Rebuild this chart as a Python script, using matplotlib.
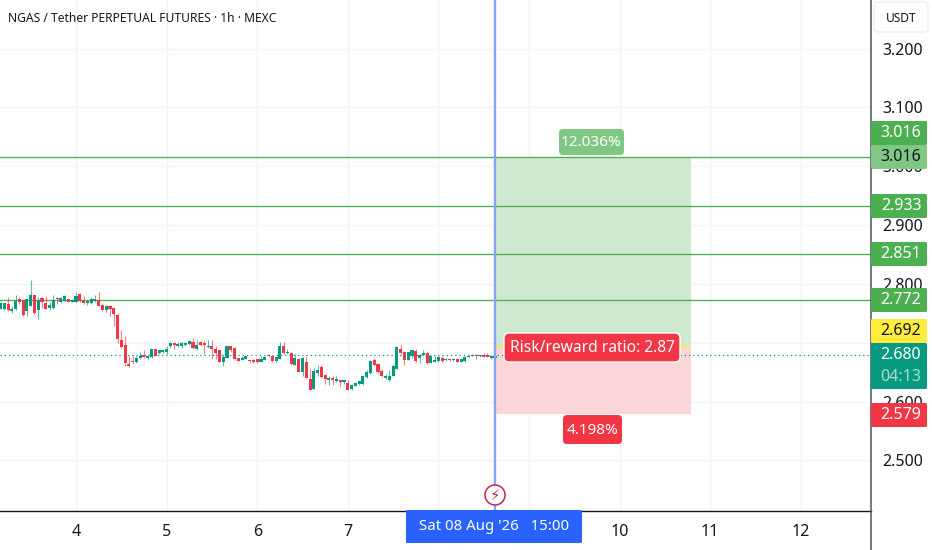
import matplotlib
matplotlib.use("Agg")
import matplotlib.pyplot as plt
import numpy as np
from matplotlib.patches import FancyBboxPatch, Rectangle, Circle

plt.rcParams['font.family'] = ['Noto Sans', 'DejaVu Sans']
plt.rcParams['font.weight'] = 500

title = "NGAS / Tether PERPETUAL FUTURES · 1h · MEXC"

opens = [2.758,2.758,2.766,2.754,2.757,2.775,2.772,2.754,2.762,2.782,2.755,2.776,2.768,2.759,2.759,2.775,2.769,2.771,2.774,2.770,
 2.770,2.783,2.773,2.768,2.767,2.771,2.772,2.765,2.756,2.763,2.759,2.748,2.705,2.696,2.664,2.668,2.667,2.674,2.680,2.674,
 2.676,2.689,2.683,2.684,2.684,2.694,2.699,2.694,2.694,2.697,2.698,2.702,2.690,2.701,2.699,2.693,2.695,2.690,2.687,2.667,
 2.674,2.695,2.691,2.674,2.671,2.672,2.671,2.671,2.672,2.667,2.671,2.679,2.677,2.669,2.672,2.695,2.682,2.682,2.663,2.672,
 2.650,2.667,2.639,2.621,2.648,2.658,2.646,2.637,2.640,2.635,2.636,2.634,2.631,2.621,2.626,2.630,2.630,2.642,2.648,2.670,
 2.664,2.652,2.640,2.637,2.644,2.655,2.690,2.684,2.671,2.677,2.686,2.674,2.680,2.683,2.666,2.667,2.669,2.674,2.670,2.672,
 2.671,2.673,2.667,2.669,2.676,2.678,2.680,2.677,2.680,2.680,2.674,2.674]
highs = [2.769,2.768,2.777,2.763,2.782,2.778,2.773,2.775,2.807,2.782,2.778,2.778,2.779,2.769,2.782,2.777,2.778,2.782,2.775,2.774,
 2.786,2.784,2.780,2.771,2.778,2.782,2.787,2.767,2.765,2.765,2.759,2.750,2.722,2.712,2.677,2.677,2.678,2.684,2.687,2.681,
 2.690,2.690,2.688,2.690,2.695,2.701,2.701,2.701,2.701,2.701,2.705,2.708,2.704,2.703,2.703,2.705,2.704,2.694,2.689,2.681,
 2.695,2.695,2.693,2.674,2.678,2.678,2.671,2.673,2.673,2.678,2.678,2.681,2.678,2.676,2.702,2.702,2.690,2.685,2.681,2.674,
 2.676,2.677,2.656,2.657,2.663,2.663,2.647,2.644,2.643,2.644,2.637,2.635,2.636,2.630,2.633,2.637,2.644,2.653,2.670,2.674,
 2.665,2.656,2.647,2.653,2.664,2.694,2.697,2.686,2.685,2.687,2.690,2.681,2.687,2.684,2.678,2.678,2.677,2.678,2.674,2.674,
 2.674,2.674,2.674,2.677,2.680,2.681,2.681,2.680,2.682,2.682,2.679,2.679]
lows = [2.757,2.756,2.754,2.751,2.756,2.766,2.745,2.746,2.762,2.749,2.741,2.759,2.758,2.756,2.758,2.766,2.767,2.769,2.769,2.769,
 2.769,2.770,2.766,2.765,2.766,2.770,2.762,2.754,2.753,2.745,2.729,2.699,2.691,2.661,2.659,2.664,2.665,2.673,2.674,2.673,
 2.674,2.677,2.681,2.682,2.681,2.691,2.689,2.693,2.691,2.695,2.697,2.689,2.687,2.694,2.681,2.691,2.672,2.673,2.667,2.661,
 2.674,2.684,2.670,2.669,2.670,2.672,2.665,2.665,2.665,2.667,2.671,2.676,2.668,2.668,2.672,2.681,2.681,2.663,2.663,2.650,
 2.643,2.640,2.619,2.621,2.643,2.640,2.630,2.629,2.628,2.634,2.627,2.630,2.619,2.620,2.626,2.629,2.629,2.640,2.647,2.661,
 2.649,2.642,2.639,2.635,2.643,2.655,2.681,2.663,2.670,2.674,2.668,2.665,2.678,2.664,2.665,2.667,2.668,2.668,2.669,2.669,
 2.669,2.667,2.667,2.668,2.676,2.677,2.672,2.676,2.675,2.676,2.673,2.674]
closes = [2.767,2.767,2.755,2.758,2.771,2.769,2.748,2.775,2.782,2.750,2.772,2.769,2.758,2.765,2.773,2.774,2.776,2.779,2.770,2.773,
 2.780,2.771,2.767,2.771,2.775,2.775,2.763,2.755,2.762,2.758,2.749,2.707,2.693,2.665,2.660,2.667,2.674,2.678,2.676,2.677,
 2.690,2.678,2.688,2.687,2.689,2.699,2.696,2.698,2.699,2.700,2.703,2.691,2.697,2.697,2.697,2.695,2.689,2.683,2.668,2.675,
 2.694,2.688,2.672,2.669,2.674,2.678,2.669,2.667,2.668,2.672,2.676,2.677,2.669,2.675,2.694,2.682,2.684,2.664,2.674,2.650,
 2.674,2.640,2.620,2.652,2.654,2.642,2.638,2.640,2.636,2.638,2.633,2.635,2.620,2.629,2.631,2.635,2.644,2.651,2.669,2.663,
 2.650,2.643,2.643,2.643,2.660,2.693,2.683,2.671,2.685,2.687,2.669,2.680,2.681,2.665,2.678,2.670,2.676,2.669,2.673,2.671,
 2.673,2.668,2.673,2.676,2.678,2.680,2.678,2.679,2.676,2.676,2.678,2.678]

target_levels = [3.016, 2.933, 2.851, 2.772]
entry_price = 2.692
stop_price = 2.579
last_price = 2.680
entry_day = 8 + 15 / 24
position_end_day = 10.788
price_ticks = [2.5, 2.6, 2.7, 2.8, 2.9, 3.0, 3.1, 3.2]
day_ticks = [4, 5, 6, 7, 8, 9, 10, 11, 12]
day_labels = ['4', '5', '6', '7', '', '', '10', '11', '12']

GREEN, RED, TEAL = '#4CAF50', '#F23645', '#089981'
W, H = 932, 550
TOP_PRICE, BOTTOM_PRICE = 3.2827, 2.4140
LEFT_DAY, RIGHT_DAY = 3.161, 12.775

fig = plt.figure(figsize=(W / 100, H / 100), dpi=100, facecolor='white')
ax = fig.add_axes([0, (H - 511) / H, 871 / W, 511 / H])
ax.set_xlim(LEFT_DAY, RIGHT_DAY)
ax.set_ylim(BOTTOM_PRICE, TOP_PRICE)
for s in ax.spines.values():
    s.set_visible(False)

ax.set_yticks(price_ticks, [f"{p:.3f}" for p in price_ticks])
ax.yaxis.tick_right()
ax.set_xticks(day_ticks, day_labels)
ax.tick_params(axis='both', length=0, labelsize=11.5, labelcolor='#131722')
ax.tick_params(axis='y', pad=8)
ax.tick_params(axis='x', pad=9.5)
ax.grid(True, color='#F2F3F4', lw=1)
ax.set_axisbelow(True)

# position tool
ax.add_patch(Rectangle((entry_day, entry_price), position_end_day - entry_day, target_levels[0] - entry_price,
                       fc='#CFE8D0', ec='none', zorder=1.5))
ax.add_patch(Rectangle((entry_day, stop_price), position_end_day - entry_day, entry_price - stop_price,
                       fc='#FBD6D9', ec='none', zorder=1.5))
ax.hlines(entry_price, entry_day, position_end_day, color='#FFEB3B', lw=1.1, zorder=1.6)

for lv in target_levels:
    ax.axhline(lv, color=GREEN, lw=0.95, zorder=2)

# candles
o, h, l, c = map(np.array, (opens, highs, lows, closes))
n = len(o)
t = entry_day - (n - 1 - np.arange(n)) / 24
up = c >= o
cols = np.where(up, TEAL, RED)
ax.vlines(t, l, h, colors=cols, lw=0.8, alpha=0.65, zorder=3)
ax.bar(t, np.maximum(np.abs(c - o), 0.002), bottom=np.minimum(o, c), width=0.034, color=cols, lw=0, zorder=3.2)
ax.axhline(last_price, color=TEAL, lw=0.9, ls=(0, (1, 2.4)), zorder=3.5)
ax.axvline(entry_day, color='#84A4F8', lw=1.7, zorder=4)

# overlay in pixel coordinates for the chart furniture
ov = fig.add_axes([0, 0, 1, 1], facecolor='none')
ov.set_xlim(0, W)
ov.set_ylim(H, 0)
ov.axis('off')


def box(x0, y0, x1, y1, fc, ec='none', r=2, lw=0, z=5):
    ov.add_patch(FancyBboxPatch((x0 + r, y0 + r), x1 - x0 - 2 * r, y1 - y0 - 2 * r,
                                boxstyle=f"round,pad={r},rounding_size={r}", fc=fc, ec=ec, lw=lw, zorder=z))


ov.text(8, 18, title, fontsize=8.7, color='#131722', va='center', ha='left')
ov.plot([0, 871], [511, 511], color='#131722', lw=1, zorder=4)
ov.plot([871, 871], [0, 550], color='#50535E', lw=1.1, zorder=4)

box(874, 2, 928, 32, 'white', ec='#EEEFF1', r=4, lw=1)
ov.text(901, 18, "USDT", fontsize=8.6, color='#131722', ha='center', va='center', zorder=6)

tags = [(121, 145, GREEN, 'white', f"{target_levels[0]:.3f}"),
        (145, 169, '#81C784', '#131722', f"{target_levels[0]:.3f}"),
        (194, 218, GREEN, 'white', f"{target_levels[1]:.3f}"),
        (242, 266, GREEN, 'white', f"{target_levels[2]:.3f}"),
        (288, 312, GREEN, 'white', f"{target_levels[3]:.3f}"),
        (319, 343, '#FFEB3B', '#131722', f"{entry_price:.3f}"),
        (403, 427, RED, 'white', f"{stop_price:.3f}")]
for y0, y1, fc, tc, s in tags:
    box(871, y0, 927, y1, fc, r=1.5)
    ov.text(901, (y0 + y1) / 2, s, color=tc, fontsize=11.5, ha='center', va='center', zorder=6, weight=600)
box(871, 343, 927, 389, TEAL, r=1.5)
ov.text(901, 355, f"{last_price:.3f}", color='white', fontsize=11.5, ha='center', va='center', zorder=6, weight=600)
ov.text(901, 377, "04:13", color='#A8DCCF', fontsize=11.5, ha='center', va='center', zorder=6, weight=600)

box(559, 129, 624, 155, '#81C784', r=4)
ov.text(591.5, 142, "12.036%", color='white', fontsize=11, ha='center', va='center', zorder=6, weight=600)
box(504, 333, 680, 362, RED, ec='white', r=5, lw=1)
ov.text(593, 347.5, "Risk/reward ratio: 2.87", color='white', fontsize=11.2, ha='center', va='center', zorder=6, weight=600)
box(563, 415, 622, 444, RED, r=4)
ov.text(592.5, 430, "4.198%", color='white', fontsize=11, ha='center', va='center', zorder=6, weight=600)

box(406, 510, 582, 543, '#2962FF', r=1.5)
ov.text(494, 527, "Sat 08 Aug '26   15:00", color='white', fontsize=10.8, ha='center', va='center', zorder=6, weight=600)

ov.add_patch(Circle((495, 495), 10, fc='white', ec='#C2274F', lw=1.1, zorder=5))
ov.text(495, 495, "\u26A1", family='DejaVu Sans', color='#C2274F', fontsize=11, ha='center', va='center', zorder=6)

fig.savefig("out.png", dpi=100)
